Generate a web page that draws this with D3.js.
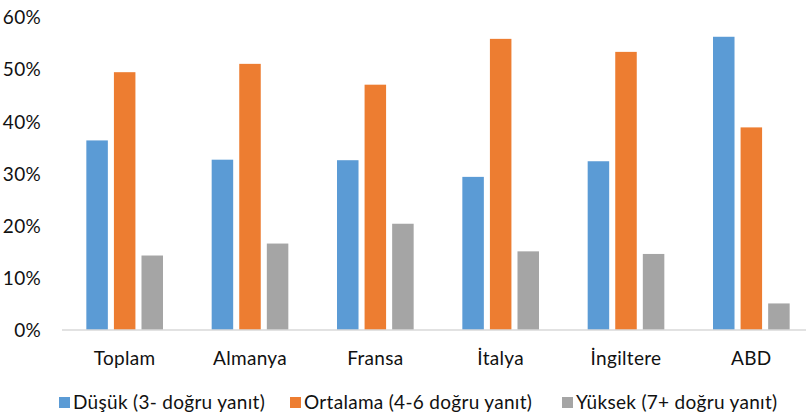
<!DOCTYPE html>
<html lang="tr">
<head>
<meta charset="utf-8">
<title>Bilgi düzeyi</title>
<script src="https://cdn.jsdelivr.net/npm/d3@7"></script>
<style>
  body { margin: 0; background: #fff; }
  text { font-family: Lato, "Open Sans", sans-serif; fill: #111; letter-spacing: 0.3px; }
</style>
</head>
<body>
<script>
var categories = ["Toplam", "Almanya", "Fransa", "İtalya", "İngiltere", "ABD"];
var seriesNames = ["Düşük (3- doğru yanıt)", "Ortalama (4-6 doğru yanıt)", "Yüksek (7+ doğru yanıt)"];
var dusuk    = [36.4, 32.7, 32.6, 29.4, 32.4, 56.3];
var ortalama = [49.5, 51.1, 47.1, 55.9, 53.4, 38.9];
var yuksek   = [14.3, 16.6, 20.4, 15.1, 14.6, 5.1];
var yTicks = [0, 10, 20, 30, 40, 50, 60];
var colors = ["#5b9bd5", "#ed7d31", "#a5a5a5"];

var width = 806, height = 418;
var svg = d3.select("body").append("svg")
    .attr("width", width)
    .attr("height", height);

var values = [dusuk, ortalama, yuksek];

var x0 = d3.scaleBand().domain(categories).range([62, 814])
    .paddingInner(0.34).paddingOuter(0.17);
var x1 = d3.scaleBand().domain(d3.range(3)).range([0, x0.bandwidth()])
    .paddingInner(0.22).paddingOuter(0.11);
var y = d3.scaleLinear().domain([0, 60]).range([330, 17.5]);

// y tick labels (no gridlines in the original)
svg.append("g").selectAll("text")
    .data(yTicks)
  .enter().append("text")
    .attr("x", 41)
    .attr("y", function(d) { return y(d); })
    .attr("dy", "0.36em")
    .attr("text-anchor", "end")
    .style("font-size", "19px")
    .text(function(d) { return d + "%"; });

// bars
var groups = svg.append("g").selectAll("g")
    .data(categories)
  .enter().append("g")
    .attr("transform", function(d) { return "translate(" + x0(d) + ",0)"; });

groups.selectAll("rect")
    .data(function(d, i) { return values.map(function(s, k) { return {k: k, v: s[i]}; }); })
  .enter().append("rect")
    .attr("x", function(d) { return x1(d.k); })
    .attr("width", x1.bandwidth())
    .attr("y", function(d) { return y(d.v); })
    .attr("height", function(d) { return y(0) - y(d.v); })
    .attr("fill", function(d) { return colors[d.k]; });

// baseline
svg.append("line")
    .attr("x1", 62).attr("x2", 806)
    .attr("y1", y(0)).attr("y2", y(0))
    .attr("stroke", "#d9d9d9")
    .attr("stroke-width", 1.5);

// category labels
svg.append("g").selectAll("text")
    .data(categories)
  .enter().append("text")
    .attr("x", function(d) { return x0(d) + x0.bandwidth() / 2; })
    .attr("y", 365)
    .attr("text-anchor", "middle")
    .style("font-size", "19px")
    .text(function(d) { return d; });

// legend
var legendX = [59, 290, 562];
var legend = svg.append("g").selectAll("g")
    .data(seriesNames)
  .enter().append("g")
    .attr("transform", function(d, i) { return "translate(" + legendX[i] + ",397)"; });

legend.append("rect")
    .attr("width", 11).attr("height", 11)
    .attr("fill", function(d, i) { return colors[i]; });

legend.append("text")
    .attr("x", 14)
    .attr("y", 12)
    .style("font-size", "19px")
    .text(function(d) { return d; });
</script>
</body>
</html>
